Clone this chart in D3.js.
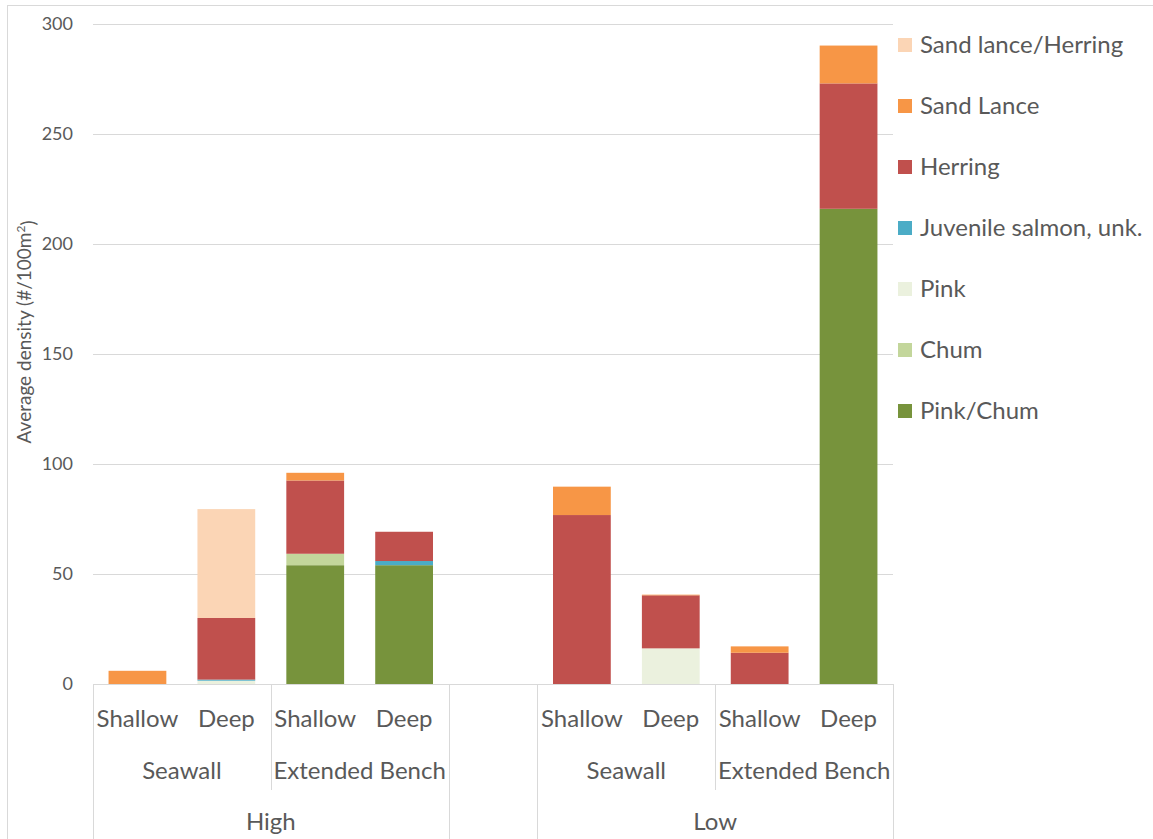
<!DOCTYPE html>
<html>
<head>
<meta charset="utf-8">
<script src="https://cdn.jsdelivr.net/npm/d3@7/dist/d3.min.js"></script>
<style>
  body { margin: 0; background: #fff; }
  svg text { font-family: Lato, "Open Sans", sans-serif; fill: #595959; }
</style>
</head>
<body>
<div id="chart"></div>
<script>
// Categories (tide / habitat / depth), left to right
const tides = ["High", "Low"];
const habitats = ["Seawall", "Extended Bench"];
const depths = ["Shallow", "Deep"];

// Series, bottom to top of each stack; one value per bar:
// High-Seawall-Shallow, High-Seawall-Deep, High-EB-Shallow, High-EB-Deep,
// Low-Seawall-Shallow, Low-Seawall-Deep, Low-EB-Shallow, Low-EB-Deep
const pinkChum         = [0, 0,   54,   54,   0,    0,    0,    216];
const chum             = [0, 0,   5.2,  0,    0,    0,    0,    0];
const pink             = [0, 1.5, 0,    0,    0,    16.2, 0,    0];
const juvenileSalmon   = [0, 0.5, 0,    1.9,  0,    0,    0,    0];
const herring          = [0, 28,  33.3, 13.3, 76.8, 24.1, 14.2, 57];
const sandLance        = [6, 0,   3.5,  0,    12.9, 0.3,  2.9,  17.2];
const sandLanceHerring = [0, 49.5, 0,   0,    0,    0,    0,    0];

const seriesNames = ["Pink/Chum", "Chum", "Pink", "Juvenile salmon, unk.", "Herring", "Sand Lance", "Sand lance/Herring"];
const seriesValues = [pinkChum, chum, pink, juvenileSalmon, herring, sandLance, sandLanceHerring];
const seriesColors = ["#77933c", "#c3d69b", "#ebf1de", "#4bacc6", "#c0504d", "#f79646", "#fbd5b5"];

const yTicks = [0, 50, 100, 150, 200, 250, 300];

const W = 1153, H = 839;
const plot = {left: 93, right: 893, top: 24, bottom: 684};

const svg = d3.select("#chart").append("svg")
  .attr("width", W)
  .attr("height", H);

// outer chart frame
svg.append("rect")
  .attr("x", 7.5).attr("y", 5.5)
  .attr("width", W).attr("height", H)
  .attr("fill", "none")
  .attr("stroke", "#d9d9d9");

// build bar rows; an empty slot sits between the two tide groups
const rows = [];
tides.forEach((t, ti) => {
  habitats.forEach(h => depths.forEach(d => {
    const i = rows.filter(r => !r.gap).length;
    const row = {key: `${t}|${h}|${d}`, tide: t, habitat: h, depth: d};
    seriesNames.forEach((s, si) => row[s] = seriesValues[si][i]);
    rows.push(row);
  }));
  if (ti < tides.length - 1) rows.push({key: "gap" + ti, gap: true});
});
const bars = rows.filter(r => !r.gap);

const x = d3.scaleBand()
  .domain(rows.map(r => r.key))
  .range([plot.left, plot.right])
  .paddingInner(0.35)
  .paddingOuter(0.175);

const y = d3.scaleLinear()
  .domain([0, 300])
  .range([plot.bottom, plot.top]);

const color = d3.scaleOrdinal().domain(seriesNames).range(seriesColors);

// gridlines
svg.append("g")
  .selectAll("line")
  .data(yTicks.filter(v => v > 0))
  .join("line")
    .attr("x1", plot.left).attr("x2", plot.right)
    .attr("y1", d => Math.round(y(d)) + 0.5)
    .attr("y2", d => Math.round(y(d)) + 0.5)
    .attr("stroke", "#d9d9d9");

// Y axis labels
const yAxis = svg.append("g")
  .attr("transform", `translate(${plot.left - 20},0)`)
  .call(d3.axisLeft(y).tickValues(yTicks).tickSize(0).tickPadding(0));
yAxis.select(".domain").remove();
yAxis.selectAll("text")
  .style("font-size", "18px")
  .style("font-family", "Lato, sans-serif")
  .attr("fill", "#595959");

// Y axis title
const yTitle = svg.append("text")
  .attr("transform", `translate(31,${(plot.top + plot.bottom) / 2 - 22}) rotate(-90)`)
  .attr("text-anchor", "middle")
  .style("font-size", "19px");
yTitle.append("tspan").text("Average density (#/100m");
yTitle.append("tspan").attr("dy", "-0.5em").style("font-size", "12px").text("2");
yTitle.append("tspan").attr("dy", "0.5em").text(")");

// stacked bars
const stacked = d3.stack().keys(seriesNames)(bars);
svg.append("g")
  .selectAll("g")
  .data(stacked)
  .join("g")
    .attr("fill", d => color(d.key))
  .selectAll("rect")
  .data(d => d.filter(p => p[1] > p[0]))
  .join("rect")
    .attr("x", d => x(d.data.key))
    .attr("width", x.bandwidth())
    .attr("y", d => y(d[1]))
    .attr("height", d => y(d[0]) - y(d[1]));

// multi-level category axis
const step = x.step();
const slotLeft = key => x(key) - (step - x.bandwidth()) / 2;
const axisG = svg.append("g");
axisG.append("line")
  .attr("x1", plot.left).attr("x2", plot.right)
  .attr("y1", plot.bottom + 0.5).attr("y2", plot.bottom + 0.5)
  .attr("stroke", "#d9d9d9");

const rowY = {depth: 719, habitat: 771, tide: 822};
const sepMid = 790;

// depth labels
axisG.selectAll(".depth")
  .data(bars)
  .join("text")
    .attr("class", "depth")
    .attr("x", d => x(d.key) + x.bandwidth() / 2)
    .attr("y", rowY.depth)
    .attr("dy", "0.35em")
    .attr("text-anchor", "middle")
    .style("font-size", "24px")
    .text(d => d.depth);

// habitat and tide groups
const habGroups = d3.groups(bars, d => d.tide + "|" + d.habitat).map(([k, v]) => ({
  label: v[0].habitat,
  x0: slotLeft(v[0].key),
  x1: slotLeft(v[v.length - 1].key) + step
}));
const tideGroups = d3.groups(bars, d => d.tide).map(([k, v]) => ({
  label: k,
  x0: slotLeft(v[0].key),
  x1: slotLeft(v[v.length - 1].key) + step
}));

axisG.selectAll(".habitat")
  .data(habGroups)
  .join("text")
    .attr("class", "habitat")
    .attr("x", d => (d.x0 + d.x1) / 2)
    .attr("y", rowY.habitat)
    .attr("dy", "0.35em")
    .attr("text-anchor", "middle")
    .style("font-size", "24px")
    .text(d => d.label);

axisG.selectAll(".tide")
  .data(tideGroups)
  .join("text")
    .attr("class", "tide")
    .attr("x", d => (d.x0 + d.x1) / 2)
    .attr("y", rowY.tide)
    .attr("dy", "0.35em")
    .attr("text-anchor", "middle")
    .style("font-size", "24px")
    .text(d => d.label);

// separators: short ones between habitats, full ones at tide group edges
const shortSeps = habGroups.map(d => d.x0).filter(v => !tideGroups.some(t => Math.abs(t.x0 - v) < 1));
const fullSeps = tideGroups.flatMap(d => [d.x0, d.x1]);
axisG.selectAll(".sep-short")
  .data(shortSeps)
  .join("line")
    .attr("x1", d => Math.round(d) + 0.5).attr("x2", d => Math.round(d) + 0.5)
    .attr("y1", plot.bottom).attr("y2", sepMid)
    .attr("stroke", "#d9d9d9");
axisG.selectAll(".sep-full")
  .data(fullSeps)
  .join("line")
    .attr("x1", d => Math.round(d) + 0.5).attr("x2", d => Math.round(d) + 0.5)
    .attr("y1", plot.bottom).attr("y2", H)
    .attr("stroke", "#d9d9d9");

// legend (top of stack first)
const legendNames = seriesNames.slice().reverse();
const legend = svg.append("g")
  .attr("transform", "translate(898,45)");
const items = legend.selectAll("g")
  .data(legendNames)
  .join("g")
    .attr("transform", (d, i) => `translate(0,${i * 61})`);
items.append("rect")
  .attr("x", 0).attr("y", -7)
  .attr("width", 14).attr("height", 14)
  .attr("fill", d => color(d));
items.append("text")
  .attr("x", 22)
  .attr("dy", "0.35em")
  .style("font-size", "24px")
  .text(d => d);
</script>
</body>
</html>
